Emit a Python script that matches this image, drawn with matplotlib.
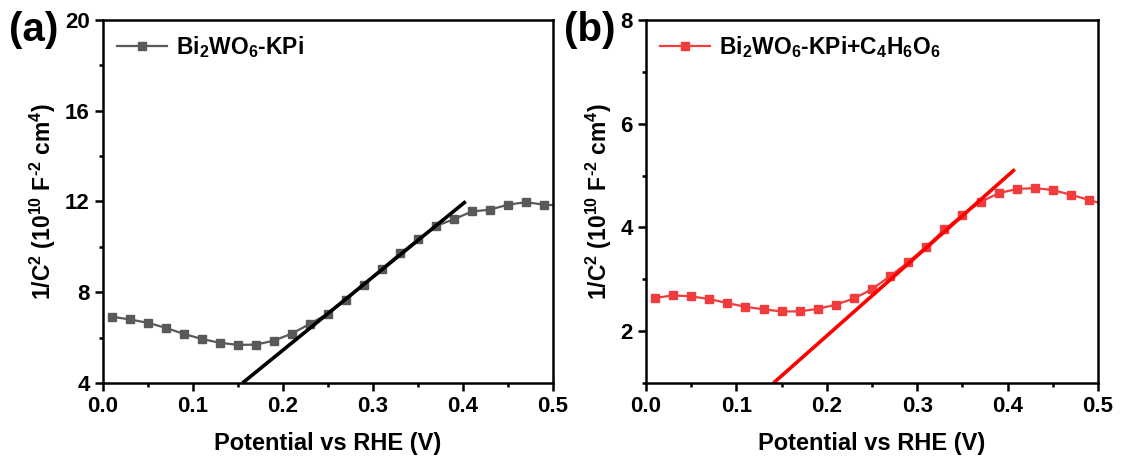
import numpy as np
import matplotlib
matplotlib.use('Agg')
import matplotlib.pyplot as plt
from matplotlib.ticker import MultipleLocator

plt.rcParams['font.family'] = ['Liberation Sans', 'DejaVu Sans']
plt.rcParams['font.weight'] = 'bold'
plt.rcParams['mathtext.fontset'] = 'custom'
plt.rcParams['mathtext.rm'] = 'Liberation Sans:bold'
plt.rcParams['mathtext.bf'] = 'Liberation Sans:bold'
plt.rcParams['mathtext.default'] = 'bf'

# Mott-Schottky data (potential in V vs RHE, 1/C^2 in 1e10 F^-2 cm^4)
potential = [0.01, 0.03, 0.05, 0.07, 0.09, 0.11, 0.13, 0.15, 0.17, 0.19,
             0.21, 0.23, 0.25, 0.27, 0.29, 0.31, 0.33, 0.35, 0.37, 0.39,
             0.41, 0.43, 0.45, 0.47, 0.49, 0.50]
kpi = [6.92, 6.80, 6.65, 6.43, 6.16, 5.94, 5.77, 5.68, 5.69, 5.87,
       6.18, 6.61, 7.06, 7.65, 8.34, 9.04, 9.71, 10.33, 10.92, 11.22,
       11.56, 11.64, 11.86, 11.97, 11.86, 11.84]
kpi_ta = [2.64, 2.69, 2.67, 2.62, 2.54, 2.47, 2.42, 2.38, 2.38, 2.43,
          2.51, 2.63, 2.81, 3.06, 3.33, 3.63, 3.96, 4.24, 4.49, 4.66,
          4.74, 4.76, 4.72, 4.63, 4.53, 4.48]

# linear fits of the depletion region
fit_a_x = [0.155, 0.403]
fit_a_y = [4.0, 12.0]
fit_b_x = [0.141, 0.408]
fit_b_y = [1.0, 5.12]

gray = '#595959'
red = '#f03c3c'

fig = plt.figure(figsize=(11.21, 4.63), dpi=100)
ax1 = fig.add_axes([0.0919, 0.1728, 0.4014, 0.784])
ax2 = fig.add_axes([0.5763, 0.1728, 0.4032, 0.784])

ylabel = r'1/C$^2$ (10$^{10}$ F$^{\text{-}2}$ cm$^4$)'


def style(ax, ymin, ymax, ystep):
    ax.set_xlim(0, 0.5)
    ax.set_ylim(ymin, ymax)
    ax.xaxis.set_major_locator(MultipleLocator(0.1))
    ax.xaxis.set_minor_locator(MultipleLocator(0.05))
    ax.yaxis.set_major_locator(MultipleLocator(ystep))
    ax.yaxis.set_minor_locator(MultipleLocator(ystep / 2))
    ax.tick_params(which='major', direction='out', length=6, width=1.8, labelsize=16)
    ax.tick_params(which='minor', direction='out', length=3, width=1.8)
    for s in ax.spines.values():
        s.set_linewidth(1.8)
    ax.set_xlabel('Potential vs RHE (V)', fontsize=17, fontweight='bold', labelpad=11)
    ax.set_ylabel(ylabel, fontsize=16.5, fontweight='bold', labelpad=5)
    ax.xaxis.set_major_formatter(plt.FuncFormatter(lambda v, p: f'{v:.1f}'))


ax1.plot(potential, kpi, color=gray, lw=1.6, marker='s', markersize=5.5,
         markevery=list(range(len(potential) - 1)), label=r'Bi$_2$WO$_6$-KPi')
ax1.plot(fit_a_x, fit_a_y, color='black', lw=2.6, solid_capstyle='butt')
style(ax1, 4, 20, 4)
ax1.legend(loc='upper left', frameon=False, fontsize=16.5, handlelength=2.2,
           borderaxespad=0.2, handletextpad=0.4)

ax2.plot(potential, kpi_ta, color=red, lw=1.6, marker='s', markersize=5.5,
         markevery=list(range(len(potential) - 1)), label=r'Bi$_2$WO$_6$-KPi+C$_4$H$_6$O$_6$')
ax2.plot(fit_b_x, fit_b_y, color='#ff0000', lw=2.6, solid_capstyle='butt')
style(ax2, 1, 8, 2)
ax2.legend(loc='upper left', frameon=False, fontsize=16.5, handlelength=2.2,
           borderaxespad=0.2, handletextpad=0.4)

fig.text(0.008, 0.935, '(a)', fontsize=29, fontweight='bold', va='center')
fig.text(0.503, 0.935, '(b)', fontsize=29, fontweight='bold', va='center')

fig.savefig('out.png', dpi=100)
